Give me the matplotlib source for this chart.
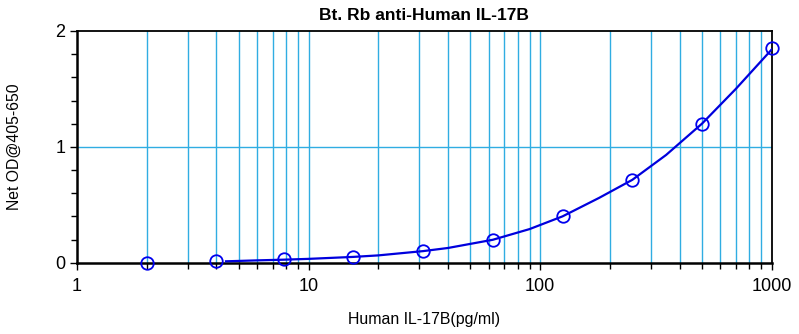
import matplotlib
matplotlib.use("Agg")
import matplotlib.pyplot as plt
from matplotlib.ticker import MultipleLocator, FixedLocator, NullFormatter

plt.rcParams['font.family'] = ['Liberation Sans', 'DejaVu Sans']

conc = [2, 4, 7.8, 15.6, 31.25, 62.5, 125, 250, 500, 1000]
od = [0.0, 0.015, 0.03, 0.052, 0.098, 0.20, 0.405, 0.711, 1.197, 1.85]

curve_x = [4.4, 6, 7.8, 10, 15.6, 20, 31.25, 40, 62.5, 90, 125, 180, 250, 350, 500, 700, 1000]
curve_y = [0.012, 0.02, 0.026, 0.033, 0.05, 0.063, 0.1, 0.127, 0.198, 0.29, 0.40, 0.56, 0.715, 0.93, 1.2, 1.50, 1.84]

xticks = [1, 10, 100, 1000]
xticklabels = ['1', '10', '100', '1000']
yticks = [0, 1, 2]

fig = plt.figure(figsize=(7.99, 3.34), dpi=100)
ax = fig.add_axes([0.0964, 0.2135, 0.8694, 0.6937])
ax.set_xscale('log')
ax.set_xlim(1, 1000)
ax.set_ylim(0, 2)

grid_c = '#30ade2'
minor_pos = [m * 10 ** e for e in range(0, 3) for m in range(2, 10)]
for xv in minor_pos + [10, 100]:
    ax.axvline(xv, color=grid_c, lw=1.0, zorder=1)
ax.axhline(1, color=grid_c, lw=1.0, zorder=1)

ax.plot(curve_x, curve_y, color='#0000dd', lw=1.6, zorder=3)
ax.plot(conc, od, linestyle='none', marker='o', markersize=9, markerfacecolor='none',
        markeredgecolor='#0000ee', markeredgewidth=1.3, zorder=4, clip_on=False)

ax.set_xticks(xticks)
ax.set_xticklabels(xticklabels)
ax.xaxis.set_minor_locator(FixedLocator(minor_pos))
ax.xaxis.set_minor_formatter(NullFormatter())
ax.set_yticks(yticks)
ax.yaxis.set_minor_locator(MultipleLocator(0.2))

ax.tick_params(axis='both', which='major', direction='out', length=5, width=1, labelsize=13, colors='black')
ax.tick_params(axis='x', which='major', pad=6)
ax.tick_params(axis='both', which='minor', direction='out', length=4, width=1)
for s in ax.spines.values():
    s.set_linewidth(1.3)
    s.set_color('black')
ax.spines['left'].set_linewidth(1.8)
ax.spines['bottom'].set_linewidth(1.8)

ax.set_title('Bt. Rb anti-Human IL-17B', fontsize=12.5, fontweight='bold', pad=8)
ax.set_xlabel('Human IL-17B(pg/ml)', fontsize=11.4, labelpad=12)
ax.set_ylabel('Net OD@405-650', fontsize=11.3, labelpad=24)

fig.savefig('out.png', dpi=100)
